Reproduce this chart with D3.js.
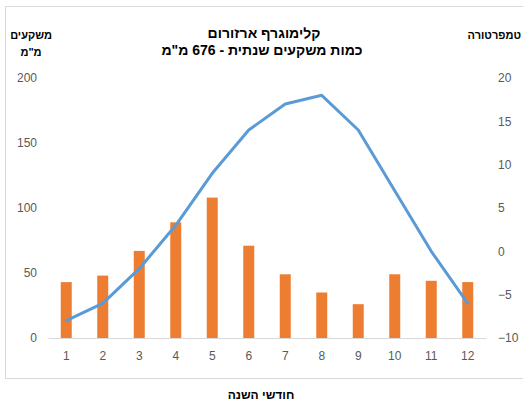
<!DOCTYPE html>
<meta charset="utf-8">
<style>
  body { margin: 0; background: #fff; }
  text { font-family: "Liberation Sans", Arial, sans-serif; }
</style>
<div id="my_dataviz"></div>
<script src="https://d3js.org/d3.v7.min.js"></script>
<script>

var months = [1, 2, 3, 4, 5, 6, 7, 8, 9, 10, 11, 12];
var rain = [43, 48, 67, 89, 108, 71, 49, 35, 26, 49, 44, 43];
var temp = [-8, -6, -2, 3, 9, 14, 17, 18, 14, 7, 0, -6];
var rainTicks = [0, 50, 100, 150, 200];
var tempTicks = [-10, -5, 0, 5, 10, 15, 20];

var W = 523, H = 403;
var margin = {top: 78, right: 37, bottom: 65, left: 48},
  width = W - margin.left - margin.right,
  height = H - margin.top - margin.bottom;

var svg = d3.select("#my_dataviz")
  .append("svg")
  .attr("width", W)
  .attr("height", H);

// outer chart border
svg.append("rect")
  .attr("x", 5.5).attr("y", 6.5)
  .attr("width", 530).attr("height", 372)
  .attr("fill", "none")
  .attr("stroke", "#d9d9d9");

var g = svg.append("g")
  .attr("transform", "translate(" + margin.left + "," + margin.top + ")");

var x = d3.scaleBand()
  .domain(months)
  .range([0, width]);

var yL = d3.scaleLinear().domain([0, 200]).range([height, 0]);
var yR = d3.scaleLinear().domain([-10, 20]).range([height, 0]);

// x axis
var xAxis = g.append("g")
  .attr("transform", "translate(0," + height + ")")
  .call(d3.axisBottom(x).tickSize(0).tickPadding(13));
xAxis.select(".domain").attr("stroke", "#d9d9d9");
xAxis.selectAll("text").style("font-size", "12px").attr("fill", "#595959");

// left axis
var leftAxis = g.append("g")
  .call(d3.axisLeft(yL).tickValues(rainTicks).tickSize(0).tickPadding(11));
leftAxis.select(".domain").remove();
leftAxis.selectAll("text").style("font-size", "12px").attr("fill", "#595959");

// right axis
var rightAxis = g.append("g")
  .attr("transform", "translate(" + width + ",0)")
  .call(d3.axisRight(yR).tickValues(tempTicks).tickSize(0).tickPadding(12));
rightAxis.select(".domain").remove();
rightAxis.selectAll("text").style("font-size", "12px").attr("fill", "#595959");

// bars
var bw = 11;
g.selectAll(".bar")
  .data(rain)
  .enter()
  .append("rect")
    .attr("class", "bar")
    .attr("x", function(d, i) { return x(months[i]) + x.bandwidth() / 2 - bw / 2; })
    .attr("y", function(d) { return yL(d); })
    .attr("width", bw)
    .attr("height", function(d) { return height - yL(d); })
    .attr("fill", "#ed7d31");

// temperature line
var line = d3.line()
  .x(function(d, i) { return x(months[i]) + x.bandwidth() / 2; })
  .y(function(d) { return yR(d); });

g.append("path")
  .datum(temp)
  .attr("d", line)
  .attr("fill", "none")
  .attr("stroke", "#5b9bd5")
  .attr("stroke-width", 3)
  .attr("stroke-linejoin", "round")
  .attr("stroke-linecap", "round");

// titles
svg.append("text")
  .attr("x", 264).attr("y", 38)
  .attr("text-anchor", "middle")
  .style("font-size", "14px").style("font-weight", "bold")
  .attr("fill", "#000")
  .text("קלימוגרף ארזורום");

svg.append("text")
  .attr("x", 262).attr("y", 55)
  .attr("text-anchor", "middle")
  .style("font-size", "14px").style("font-weight", "bold")
  .attr("fill", "#000")
  .text("כמות משקעים שנתית - 676 מ\"מ");

svg.append("text")
  .attr("x", 31).attr("y", 39)
  .attr("text-anchor", "middle")
  .style("font-size", "11px").style("font-weight", "bold")
  .text("משקעים");

svg.append("text")
  .attr("x", 31).attr("y", 56)
  .attr("text-anchor", "middle")
  .style("font-size", "11px").style("font-weight", "bold")
  .text("מ\"מ");

svg.append("text")
  .attr("x", 521).attr("y", 39)
  .attr("text-anchor", "end")
  .style("font-size", "11px").style("font-weight", "bold")
  .text("טמפרטורה");

svg.append("text")
  .attr("x", 261).attr("y", 399)
  .attr("text-anchor", "middle")
  .style("font-size", "12px").style("font-weight", "bold")
  .text("חודשי השנה");

</script>
